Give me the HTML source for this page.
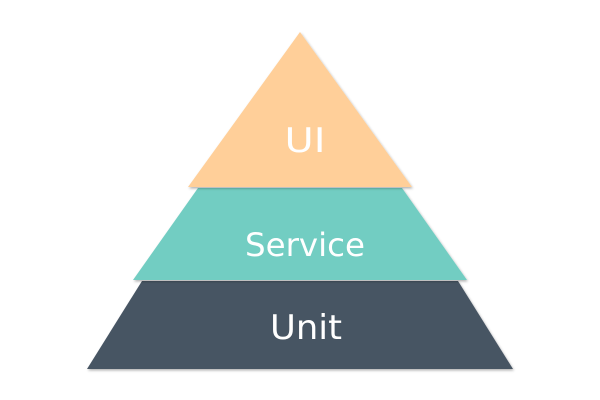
<!DOCTYPE html>
<html><head><style>
html,body{margin:0;padding:0;background:#fff;width:600px;height:400px;overflow:hidden}
svg{display:block}
text{font-family:"DejaVu Sans","Liberation Sans",sans-serif;fill:#fff;text-anchor:middle}
</style></head><body>
<svg width="600" height="400" viewBox="0 0 600 400">
<defs><filter id="s" x="-10%" y="-10%" width="120%" height="130%"><feDropShadow dx="1" dy="1.5" stdDeviation="1.2" flood-color="#000" flood-opacity="0.3"/></filter></defs>
<polygon points="142,281 458,281 513,369 87,369" fill="#475463" filter="url(#s)"/>
<polygon points="198,188 402,188 467,280 133,280" fill="#72CDC2" filter="url(#s)"/>
<polygon points="300,32 412,187 188,187" fill="#FFCF99" filter="url(#s)"/>
<text x="305" y="152" font-size="34" font-weight="normal" textLength="41" lengthAdjust="spacingAndGlyphs">UI</text>
<text x="305" y="256" font-size="32" textLength="120" lengthAdjust="spacingAndGlyphs">Service</text>
<text x="306" y="339" font-size="34" textLength="72" lengthAdjust="spacingAndGlyphs">Unit</text>
</svg>
</body></html>
